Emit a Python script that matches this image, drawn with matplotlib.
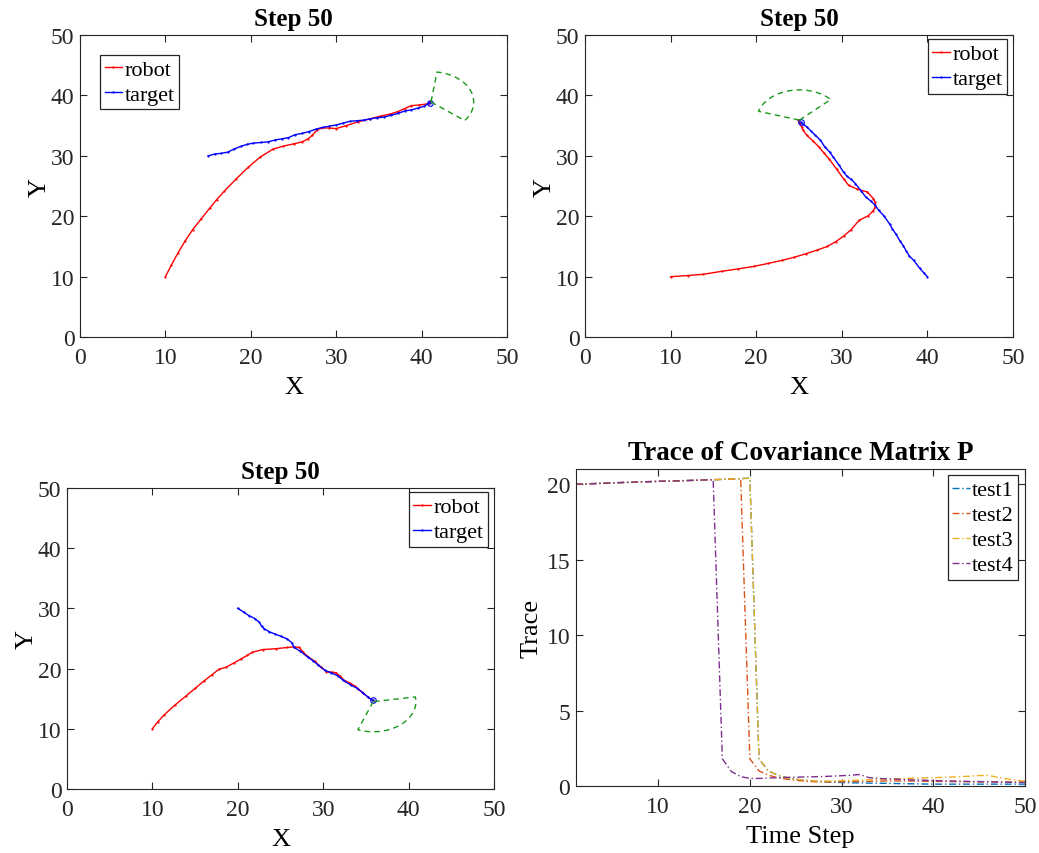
import numpy as np
import matplotlib
matplotlib.use("Agg")
import matplotlib.pyplot as plt

plt.rcParams['font.family'] = ['Liberation Serif', 'DejaVu Serif']
plt.rcParams['mathtext.fontset'] = 'stix'

# ---------------- data ----------------
# Panel 1 (top-left)
p1_robot_x = [10.0, 10.7, 11.5, 12.3, 13.2, 14.2, 15.2, 16.0, 16.9, 18.3, 19.7, 21.1, 22.6, 23.8, 25.1,
              26.0, 26.7, 27.2, 27.7, 28.2, 29.1, 30.0, 31.2, 32.5, 33.9, 35.3, 36.3, 37.2, 38.0, 38.8,
              39.7, 40.7, 41.0]
p1_robot_y = [10.0, 11.95, 14.0, 15.9, 17.8, 19.6, 21.35, 22.75, 24.15, 26.2, 28.1, 29.8, 31.1, 31.6, 32.0,
              32.3, 32.8, 33.4, 34.2, 34.6, 34.6, 34.5, 35.0, 35.6, 36.1, 36.6, 36.9, 37.3, 37.8, 38.3,
              38.4, 38.6, 38.9]
p1_target_x = [15.0, 15.8, 16.5, 17.3, 18.0, 18.9, 19.6, 20.3, 21.2, 22.0, 22.8, 23.6, 24.4, 25.2, 26.0,
               26.8, 27.6, 28.4, 29.2, 30.0, 30.8, 31.6, 32.4, 33.2, 34.0, 34.8, 35.6, 36.4, 37.2, 38.0,
               38.8, 39.6, 40.3, 41.0]
p1_target_y = [30.0, 30.3, 30.4, 30.6, 31.1, 31.6, 31.9, 32.1, 32.2, 32.3, 32.6, 32.8, 33.0, 33.5, 33.7,
               34.0, 34.4, 34.7, 34.9, 35.1, 35.4, 35.7, 35.8, 35.9, 36.1, 36.3, 36.4, 36.7, 37.0, 37.4,
               37.6, 37.9, 38.2, 38.8]
p1_fan = dict(x=41.1, y=38.9, heading=22, fov=120, rng=5)

# Panel 2 (top-right)
p2_robot_x = [10.0, 12.0, 13.8, 16.0, 17.9, 19.7, 21.4, 23.0, 24.4, 25.8, 27.1, 28.3, 29.3, 30.2, 31.1,
              32.0, 33.1, 33.6, 33.9, 33.9, 33.7, 33.0, 31.8, 30.8, 30.2, 29.4, 28.5, 27.9, 27.3, 26.6,
              25.9, 25.5, 25.3, 25.1, 24.9]
p2_robot_y = [10.0, 10.2, 10.4, 10.9, 11.3, 11.7, 12.2, 12.7, 13.2, 13.8, 14.4, 15.0, 15.8, 16.7, 17.8,
              19.3, 20.1, 20.8, 21.5, 22.3, 22.9, 24.0, 24.5, 25.1, 26.2, 27.8, 29.5, 30.5, 31.5, 32.5,
              33.4, 34.2, 34.8, 35.4, 35.9]
p2_target_x = [40.0, 39.6, 39.1, 38.4, 37.9, 37.5, 37.2, 36.8, 36.3, 35.9, 35.6, 34.9, 34.3, 33.9, 33.4,
               32.8, 32.3, 31.6, 31.1, 30.6, 30.2, 29.7, 29.0, 28.6, 28.0, 27.5, 26.9, 26.4, 25.9, 25.5,
               25.2]
p2_target_y = [10.0, 10.6, 11.4, 12.7, 13.4, 14.3, 15.1, 15.9, 17.1, 17.9, 18.7, 20.1, 21.0, 21.8, 22.5,
               23.2, 24.1, 25.4, 26.1, 26.6, 27.3, 28.4, 29.8, 30.6, 31.5, 32.6, 33.4, 34.1, 34.8, 35.2,
               35.6]
p2_fan = dict(x=25.05, y=35.9, heading=103, fov=120, rng=5)

# Panel 3 (bottom-left)
p3_robot_x = [10.0, 10.6, 11.3, 12.6, 13.9, 15.0, 16.0, 17.0, 17.8, 18.6, 19.5, 20.4, 21.1, 21.7, 22.9,
              24.5, 25.8, 26.6, 27.2, 27.6, 28.0, 29.0, 29.7, 30.35, 31.0, 31.5, 32.0, 32.5, 33.1, 33.7,
              34.1, 34.5, 35.2, 35.8]
p3_robot_y = [10.0, 11.1, 12.2, 13.9, 15.4, 16.7, 17.9, 19.0, 19.9, 20.2, 20.9, 21.6, 22.2, 22.7, 23.15,
              23.3, 23.5, 23.6, 23.5, 22.8, 22.2, 21.2, 20.3, 19.5, 19.4, 19.3, 18.7, 18.0, 17.6, 17.1,
              16.6, 16.1, 15.3, 14.7]
p3_target_x = [20.0, 20.7, 21.3, 22.0, 22.5, 22.8, 23.1, 23.7, 24.3, 25.0, 25.8, 26.3, 26.6, 27.3, 28.2,
               28.8, 29.4, 30.2, 30.9, 31.7, 32.3, 33.3, 34.0, 34.7, 35.3, 35.8]
p3_target_y = [30.0, 29.35, 28.8, 28.3, 27.7, 27.0, 26.6, 26.1, 25.75, 25.4, 24.9, 24.3, 23.5, 22.9, 21.9,
               21.3, 20.6, 19.7, 19.3, 18.8, 18.1, 17.2, 16.7, 15.9, 15.2, 14.7]
p3_fan = dict(x=35.85, y=14.5, heading=-51, fov=120, rng=5)

# Panel 4 (trace of covariance)
time_step = list(range(1, 51))
test1 = [20.00, 20.02, 20.04, 20.06, 20.09, 20.11, 20.13, 20.15, 20.17, 20.19, 20.21, 20.22, 20.24, 20.26,
         20.28, 20.30, 20.32, 20.35, 20.37, 20.40, 1.80, 1.00, 0.72, 0.55, 0.45, 0.38, 0.32, 0.28, 0.25,
         0.23, 0.21, 0.20, 0.19, 0.18, 0.17, 0.16, 0.15, 0.14, 0.13, 0.12, 0.12, 0.12, 0.12, 0.12, 0.12,
         0.12, 0.12, 0.12, 0.12, 0.12]
test2 = [20.00, 20.02, 20.04, 20.06, 20.09, 20.11, 20.13, 20.15, 20.17, 20.19, 20.21, 20.22, 20.24, 20.26,
         20.28, 20.30, 20.32, 20.35, 20.37, 1.80, 1.00, 0.72, 0.55, 0.45, 0.38, 0.32, 0.28, 0.27, 0.27,
         0.28, 0.29, 0.30, 0.31, 0.32, 0.33, 0.33, 0.33, 0.32, 0.31, 0.30, 0.30, 0.29, 0.28, 0.28, 0.27,
         0.27, 0.26, 0.26, 0.25, 0.25]
test3 = [20.00, 20.02, 20.04, 20.06, 20.09, 20.11, 20.13, 20.15, 20.17, 20.19, 20.21, 20.22, 20.24, 20.26,
         20.28, 20.30, 20.32, 20.35, 20.37, 20.40, 1.80, 1.00, 0.72, 0.55, 0.45, 0.38, 0.33, 0.32, 0.33,
         0.35, 0.37, 0.39, 0.41, 0.43, 0.46, 0.48, 0.50, 0.52, 0.53, 0.55, 0.57, 0.59, 0.62, 0.65, 0.69,
         0.70, 0.58, 0.47, 0.38, 0.32]
test4 = [20.00, 20.02, 20.04, 20.06, 20.09, 20.11, 20.13, 20.15, 20.17, 20.19, 20.21, 20.22, 20.24, 20.26,
         20.28, 20.30, 1.80, 0.95, 0.62, 0.50, 0.50, 0.52, 0.55, 0.57, 0.58, 0.60, 0.61, 0.63, 0.65, 0.68,
         0.71, 0.76, 0.55, 0.50, 0.47, 0.45, 0.42, 0.40, 0.38, 0.36, 0.34, 0.33, 0.32, 0.30, 0.29, 0.28,
         0.26, 0.25, 0.24, 0.23]
test_names = ['test1', 'test2', 'test3', 'test4']
test_colors = ['#0072BD', '#D95319', '#EDB120', '#7E2F8E']

# ---------------- style ----------------
AXC = '#262626'
TICK_FS = 17
LABEL_FS = 19
TITLE_FS = 18
LEG_FS = 16
FAN_COLOR = '#1a9a1a'

fig = plt.figure(figsize=(10.39, 8.54), dpi=100)
fig.patch.set_facecolor('white')


def style_axes(ax):
    for s in ax.spines.values():
        s.set_color(AXC)
        s.set_linewidth(0.8)
    ax.tick_params(direction='in', top=True, right=True, length=5, width=0.8,
                   colors=AXC, labelsize=TICK_FS)
    ax.tick_params(axis='x', pad=7)
    ax.tick_params(axis='y', pad=4)


def fan_points(f):
    a0 = np.deg2rad(f['heading'] - f['fov'] / 2)
    a1 = np.deg2rad(f['heading'] + f['fov'] / 2)
    ang = np.linspace(a0, a1, 40)
    xs = np.concatenate([[f['x']], f['x'] + f['rng'] * np.cos(ang), [f['x']]])
    ys = np.concatenate([[f['y']], f['y'] + f['rng'] * np.sin(ang), [f['y']]])
    return xs, ys


def make_legend(ax, anchor, loc):
    leg = ax.legend(loc=loc, bbox_to_anchor=anchor, bbox_transform=ax.transAxes,
                    fontsize=LEG_FS, frameon=True, fancybox=False,
                    edgecolor=AXC, framealpha=1, handlelength=0.8, handletextpad=0.1,
                    borderpad=0.2, labelspacing=0.2, borderaxespad=0.0)
    leg.get_frame().set_linewidth(0.9)
    return leg


def traj_panel(rect, rx, ry, tx, ty, fan, anchor, loc):
    ax = fig.add_axes(rect)
    ax.plot(rx, ry, color='red', lw=1.0, marker='.', ms=1.2, label='robot')
    ax.plot(tx, ty, color='blue', lw=1.0, marker='.', ms=1.2, label='target')
    ax.plot([tx[-1]], [ty[-1]], marker='o', ms=4, mfc='none', mec='blue', mew=0.8)
    fx, fy = fan_points(fan)
    ax.plot(fx, fy, color=FAN_COLOR, lw=1.0, ls=(0, (4, 3)))
    ax.set_xlim(0, 50)
    ax.set_ylim(0, 50)
    ax.set_xticks([0, 10, 20, 30, 40, 50])
    ax.set_yticks([0, 10, 20, 30, 40, 50])
    ax.set_xlabel('X', fontsize=LABEL_FS, labelpad=6)
    ax.set_ylabel('Y', fontsize=LABEL_FS, labelpad=0)
    ax.set_title('Step 50', fontsize=TITLE_FS, fontweight='bold', pad=7)
    style_axes(ax)
    make_legend(ax, anchor, loc)
    return ax


traj_panel([0.077, 0.604, 0.411, 0.354], p1_robot_x, p1_robot_y, p1_target_x, p1_target_y,
           p1_fan, (0.047, 0.935), 'upper left')
traj_panel([0.563, 0.604, 0.412, 0.354], p2_robot_x, p2_robot_y, p2_target_x, p2_target_y,
           p2_fan, (0.986, 0.985), 'upper right')
traj_panel([0.0645, 0.075, 0.411, 0.3525], p3_robot_x, p3_robot_y, p3_target_x, p3_target_y,
           p3_fan, (0.986, 0.985), 'upper right')

# Trace panel
ax4 = fig.add_axes([0.554, 0.0785, 0.4325, 0.371])
for vals, name, col in zip([test1, test2, test3, test4], test_names, test_colors):
    ax4.plot(time_step, vals, color=col, lw=1.0, ls=(0, (5, 2, 1, 2)), label=name)
ax4.set_xlim(1, 50)
ax4.set_ylim(0, 21)
ax4.set_xticks([10, 20, 30, 40, 50])
ax4.set_yticks([0, 5, 10, 15, 20])
ax4.set_xlabel('Time Step', fontsize=LABEL_FS, labelpad=6)
ax4.set_ylabel('Trace', fontsize=LABEL_FS, labelpad=3)
ax4.set_title('Trace of Covariance Matrix P', fontsize=19.5, fontweight='bold', pad=7)
style_axes(ax4)
make_legend(ax4, (0.985, 0.98), 'upper right')

fig.savefig('out.png', dpi=100, facecolor='white')
